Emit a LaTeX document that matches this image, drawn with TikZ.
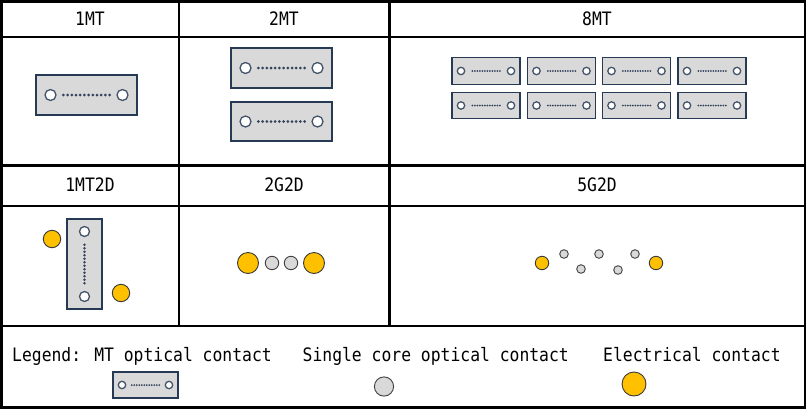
\documentclass[tikz,border=0pt]{standalone}
\usepackage{fontspec}
\newfontfamily\lab[FakeStretch=0.885]{DejaVu Sans Mono}
\definecolor{mtfill}{HTML}{D9D9D9}
\definecolor{mtdraw}{HTML}{263A56}
\definecolor{pindraw}{HTML}{44546A}
\definecolor{dotcol}{HTML}{33435C}
\definecolor{yel}{HTML}{FFC000}
\definecolor{yeldraw}{HTML}{3A3A3A}
\definecolor{grayfill}{HTML}{D9D9D9}
\definecolor{graydraw}{HTML}{404040}
\tikzset{
  tbl/.style={line width=2.5pt, black},
  head/.style={inner sep=0pt, font=\lab\fontsize{18.5}{20}\selectfont},
  legtxt/.style={inner sep=0pt, anchor=base west, font=\lab\fontsize{18.5}{20}\selectfont},
  mtbody/.style={fill=mtfill, draw=mtdraw, line width=1.3pt},
  pinsty/.style={fill=white, draw=pindraw, line width=1.3pt},
  dotsty/.style={fill=dotcol},
  elec/.style={fill=yel, draw=yeldraw, line width=0.9pt},
  single/.style={fill=grayfill, draw=graydraw, line width=0.9pt},
}
% horizontal MT ferrule: cx, cy, w, h, pin radius, pin inset, dot spacing, dot radius
\newcommand\MTh[8]{%
  \path[mtbody] ({#1-#3/2},{#2-#4/2}) rectangle ({#1+#3/2},{#2+#4/2});
  \path[pinsty] ({#1-#3/2+#6},#2) circle[radius=#5pt];
  \path[pinsty] ({#1+#3/2-#6},#2) circle[radius=#5pt];
  \foreach \k in {-5.5,-4.5,...,5.5}{\path[dotsty] ({#1+\k*#7},#2) circle[radius=#8pt];}
}
% vertical MT ferrule
\newcommand\MTv[8]{%
  \path[mtbody] ({#1-#3/2},{#2-#4/2}) rectangle ({#1+#3/2},{#2+#4/2});
  \path[pinsty] (#1,{#2-#4/2+#6}) circle[radius=#5pt];
  \path[pinsty] (#1,{#2+#4/2-#6}) circle[radius=#5pt];
  \foreach \k in {-5.5,-4.5,...,5.5}{\path[dotsty] (#1,{#2+\k*#7}) circle[radius=#8pt];}
}
\begin{document}
\begin{tikzpicture}[x=1pt,y=-1pt]
\useasboundingbox (0,0) rectangle (809,410);
% table
\draw[tbl] (1.3,1.3) rectangle (805,407.5);
\draw[tbl] (1.3,37) -- (805,37);
\draw[tbl] (1.3,165.5) -- (805,165.5);
\draw[tbl] (1.3,206) -- (805,206);
\draw[tbl] (1.3,326) -- (805,326);
\draw[tbl] (179,1.3) -- (179,326);
\draw[tbl] (389.3,1.3) -- (389.3,326);
% headers
\node[head] (h1) at (90,19) {1MT};
\node[head] (h2) at (284,19) {2MT};
\node[head] (h3) at (597,19) {8MT};
\node[head] (h4) at (90,185) {1MT2D};
\node[head] (h5) at (284,185) {2G2D};
\node[head] (h6) at (597,185) {5G2D};
% 1MT
\MTh{86.5}{95}{101}{40}{5.5}{14.5}{4.2}{1.5}
% 2MT
\MTh{281.5}{68}{101}{40}{5.5}{14.5}{4.2}{1.5}
\MTh{281.5}{121.5}{101}{39}{5.5}{14.5}{4.2}{1.5}
% 8MT
\foreach \cx in {486,561.5,636.5,712}{
  \MTh{\cx}{71}{68}{26.5}{3.7}{9}{2.5}{1.0}
  \MTh{\cx}{105.5}{68}{26.5}{3.7}{9}{2.5}{1.0}
}
% 1MT2D
\MTv{84.5}{264}{35}{90}{5}{12.5}{3.5}{1.35}
\path[elec] (52,239) circle[radius=8.7pt];
\path[elec] (121,293) circle[radius=8.7pt];
% 2G2D
\path[elec] (248,263) circle[radius=10.5pt];
\path[single] (272,263) circle[radius=6.7pt];
\path[single] (291,263) circle[radius=6.7pt];
\path[elec] (314,263) circle[radius=10.5pt];
% 5G2D
\path[elec] (542,263) circle[radius=6.7pt];
\path[single] (564,254) circle[radius=4.3pt];
\path[single] (581,269) circle[radius=4.3pt];
\path[single] (599,254) circle[radius=4.3pt];
\path[single] (618,270) circle[radius=4.3pt];
\path[single] (635,254) circle[radius=4.3pt];
\path[elec] (656,263) circle[radius=6.7pt];
% legend
\node[legtxt] (l1) at (12,361) {Legend: MT optical contact};
\node[legtxt] (l2) at (302.5,361) {Single core optical contact};
\node[legtxt] (l3) at (603,361) {Electrical contact};
\MTh{145.5}{385}{65}{26}{3.7}{9}{2.5}{1.0}
\path[single] (384,386.5) circle[radius=9.6pt];
\path[elec] (634,384) circle[radius=12pt];
\end{tikzpicture}
\end{document}
